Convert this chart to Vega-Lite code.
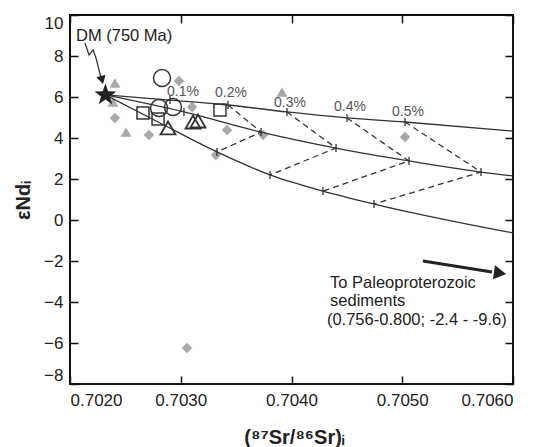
{
  "$schema": "https://vega.github.io/schema/vega-lite/v6.json",
  "width": 443,
  "height": 369,
  "autosize": "none",
  "padding": {"left": 70, "top": 15, "right": 31, "bottom": 63},
  "background": "white",
  "config": {
    "view": {"stroke": "#111", "strokeWidth": 2},
    "font": "Liberation Sans",
    "axis": {
      "grid": false,
      "domain": false,
      "ticks": true,
      "tickSize": 8,
      "tickColor": "#111",
      "tickWidth": 1.5,
      "labelFontSize": 17,
      "labelColor": "#222",
      "titleFontSize": 20,
      "titleFontWeight": "bold",
      "titleColor": "#222"
    }
  },
  "datasets": {
    "curves": [
      {"c": "top", "o": 0, "x": 0.70232, "y": 6.10},
      {"c": "top", "o": 1, "x": 0.702903, "y": 5.85},
      {"c": "top", "o": 2, "x": 0.703427, "y": 5.61},
      {"c": "top", "o": 3, "x": 0.703959, "y": 5.27},
      {"c": "top", "o": 4, "x": 0.704501, "y": 4.98},
      {"c": "top", "o": 5, "x": 0.705025, "y": 4.78},
      {"c": "top", "o": 6, "x": 0.706, "y": 4.34},
      {"c": "mid", "o": 0, "x": 0.70232, "y": 6.10},
      {"c": "mid", "o": 1, "x": 0.703029, "y": 5.27},
      {"c": "mid", "o": 2, "x": 0.703725, "y": 4.29},
      {"c": "mid", "o": 3, "x": 0.704402, "y": 3.51},
      {"c": "mid", "o": 4, "x": 0.705061, "y": 2.88},
      {"c": "mid", "o": 5, "x": 0.705711, "y": 2.34},
      {"c": "mid", "o": 6, "x": 0.706, "y": 2.15},
      {"c": "bot", "o": 0, "x": 0.70232, "y": 6.10},
      {"c": "bot", "o": 1, "x": 0.702813, "y": 4.73},
      {"c": "bot", "o": 2, "x": 0.703327, "y": 3.32},
      {"c": "bot", "o": 3, "x": 0.703806, "y": 2.20},
      {"c": "bot", "o": 4, "x": 0.704284, "y": 1.41},
      {"c": "bot", "o": 5, "x": 0.704745, "y": 0.78},
      {"c": "bot", "o": 6, "x": 0.706, "y": -0.63}
    ],
    "isopleths": [
      {"p": "0.2", "o": 0, "x": 0.703427, "y": 5.61},
      {"p": "0.2", "o": 1, "x": 0.703725, "y": 4.29},
      {"p": "0.2", "o": 2, "x": 0.703327, "y": 3.32},
      {"p": "0.3", "o": 0, "x": 0.703959, "y": 5.27},
      {"p": "0.3", "o": 1, "x": 0.704402, "y": 3.51},
      {"p": "0.3", "o": 2, "x": 0.703806, "y": 2.20},
      {"p": "0.4", "o": 0, "x": 0.704501, "y": 4.98},
      {"p": "0.4", "o": 1, "x": 0.705061, "y": 2.88},
      {"p": "0.4", "o": 2, "x": 0.704284, "y": 1.41},
      {"p": "0.5", "o": 0, "x": 0.705025, "y": 4.78},
      {"p": "0.5", "o": 1, "x": 0.705711, "y": 2.34},
      {"p": "0.5", "o": 2, "x": 0.704745, "y": 0.78}
    ],
    "ticks": [
      {"x": 0.702903, "y": 5.85},
      {"x": 0.703427, "y": 5.61},
      {"x": 0.703959, "y": 5.27},
      {"x": 0.704501, "y": 4.98},
      {"x": 0.705025, "y": 4.78},
      {"x": 0.703029, "y": 5.27},
      {"x": 0.703725, "y": 4.29},
      {"x": 0.704402, "y": 3.51},
      {"x": 0.705061, "y": 2.88},
      {"x": 0.705711, "y": 2.34},
      {"x": 0.703327, "y": 3.32},
      {"x": 0.703806, "y": 2.20},
      {"x": 0.704284, "y": 1.41},
      {"x": 0.704745, "y": 0.78}
    ],
    "points": [
      {"type": "gray diamond", "x": 0.702406, "y": 4.98},
      {"type": "gray diamond", "x": 0.702713, "y": 4.15},
      {"type": "gray diamond", "x": 0.702984, "y": 6.78},
      {"type": "gray diamond", "x": 0.703102, "y": 5.51},
      {"type": "gray diamond", "x": 0.703418, "y": 4.39},
      {"type": "gray diamond", "x": 0.703318, "y": 3.17},
      {"type": "gray diamond", "x": 0.703743, "y": 4.15},
      {"type": "gray diamond", "x": 0.705025, "y": 4.05},
      {"type": "gray diamond", "x": 0.703056, "y": -6.24},
      {"type": "gray triangle", "x": 0.702406, "y": 6.68},
      {"type": "gray triangle", "x": 0.702388, "y": 5.76},
      {"type": "gray triangle", "x": 0.702506, "y": 4.29},
      {"type": "gray triangle", "x": 0.703914, "y": 6.24},
      {"type": "open circle", "x": 0.702831, "y": 6.93},
      {"type": "open circle", "x": 0.702804, "y": 5.46},
      {"type": "open circle", "x": 0.70293, "y": 5.51},
      {"type": "open square", "x": 0.702659, "y": 5.22},
      {"type": "open square", "x": 0.702795, "y": 4.93},
      {"type": "open square", "x": 0.703354, "y": 5.37},
      {"type": "open triangle", "x": 0.702885, "y": 4.49},
      {"type": "open triangle", "x": 0.703111, "y": 4.78},
      {"type": "open triangle", "x": 0.703156, "y": 4.83},
      {"type": "DM", "x": 0.70232, "y": 6.10}
    ],
    "pct": [
      {"x": 0.70302, "y": 6.24, "t": "0.1%"},
      {"x": 0.703454, "y": 6.20, "t": "0.2%"},
      {"x": 0.703986, "y": 5.71, "t": "0.3%"},
      {"x": 0.704528, "y": 5.51, "t": "0.4%"},
      {"x": 0.705052, "y": 5.27, "t": "0.5%"}
    ],
    "notes": [
      {"x": 0.702054, "y": 8.98, "t": "DM (750 Ma)"},
      {"x": 0.704348, "y": -3.07, "t": "To Paleoproterozoic"},
      {"x": 0.704348, "y": -3.95, "t": "sediments"},
      {"x": 0.70432, "y": -4.88, "t": "(0.756-0.800; -2.4 - -9.6)"}
    ],
    "dmarrow": [
      {"o": 0, "x": 0.702135, "y": 8.63},
      {"o": 1, "x": 0.702172, "y": 8.05},
      {"o": 2, "x": 0.702208, "y": 8.29},
      {"o": 3, "x": 0.702235, "y": 7.90},
      {"o": 4, "x": 0.702253, "y": 7.51},
      {"o": 5, "x": 0.70228, "y": 6.93}
    ],
    "dmhead": [{"x": 0.702289, "y": 6.83}],
    "sedarrow": [
      {"o": 0, "x": 0.705187, "y": -2.00},
      {"o": 1, "x": 0.70581, "y": -2.54}
    ],
    "sedhead": [{"x": 0.705883, "y": -2.59}]
  },
  "layer": [
    {
      "encoding": {
        "x": {
          "field": "x", "type": "quantitative",
          "scale": {"domain": [0.702, 0.706], "zero": false, "nice": false},
          "axis": {
            "offset": -8,
            "values": [0.702, 0.703, 0.704, 0.705, 0.706],
            "format": ".4f",
            "labelPadding": 8,
            "title": "(⁸⁷Sr/⁸⁶Sr)ᵢ",
            "titleX": 224,
            "titleY": 61,
            "titleBaseline": "middle",
            "titleAlign": "center"
          }
        },
        "y": {
          "field": "y", "type": "quantitative",
          "scale": {"domain": [-8, 10], "zero": false, "nice": false},
          "axis": {
            "offset": -8,
            "values": [-8, -6, -4, -2, 0, 2, 4, 6, 8, 10],
            "labelFlush": true,
            "labelPadding": 7,
            "title": "εNdᵢ",
            "titleX": -55,
            "titleY": 185,
            "titleBaseline": "middle",
            "titleAlign": "center"
          }
        }
      },
      "layer": [
        {
          "data": {"name": "points"},
          "transform": [{"filter": "datum.type == 'gray diamond'"}],
          "mark": {"type": "point", "shape": "diamond", "filled": true, "color": "#a9a9a9", "opacity": 1, "size": 110}
        },
        {
          "data": {"name": "points"},
          "transform": [{"filter": "datum.type == 'gray triangle'"}],
          "mark": {"type": "point", "shape": "triangle-up", "filled": true, "color": "#a9a9a9", "opacity": 1, "size": 121}
        },
        {
          "data": {"name": "curves"},
          "mark": {"type": "line", "color": "#333", "strokeWidth": 1.3, "interpolate": "monotone"},
          "encoding": {"detail": {"field": "c"}, "order": {"field": "o"}}
        },
        {
          "data": {"name": "isopleths"},
          "mark": {"type": "line", "color": "#333", "strokeWidth": 1.3, "strokeDash": [6, 4]},
          "encoding": {"detail": {"field": "p"}, "order": {"field": "o"}}
        },
        {
          "data": {"name": "ticks"},
          "mark": {"type": "point", "shape": "M0,-1L0,1", "filled": false, "stroke": "#333", "strokeWidth": 1.3, "opacity": 1, "size": 64}
        },
        {
          "data": {"name": "points"},
          "transform": [{"filter": "datum.type == 'open circle'"}],
          "mark": {"type": "point", "shape": "circle", "filled": false, "stroke": "#333", "strokeWidth": 1.5, "opacity": 1, "size": 289}
        },
        {
          "data": {"name": "points"},
          "transform": [{"filter": "datum.type == 'open square'"}],
          "mark": {"type": "point", "shape": "square", "filled": false, "stroke": "#333", "strokeWidth": 1.5, "opacity": 1, "size": 144}
        },
        {
          "data": {"name": "points"},
          "transform": [{"filter": "datum.type == 'open triangle'"}],
          "mark": {"type": "point", "shape": "triangle-up", "filled": false, "stroke": "#333", "strokeWidth": 1.8, "opacity": 1, "size": 225}
        },
        {
          "data": {"name": "dmarrow"},
          "mark": {"type": "line", "color": "#333", "strokeWidth": 1.3},
          "encoding": {"order": {"field": "o"}}
        },
        {
          "data": {"name": "dmhead"},
          "mark": {"type": "point", "shape": "triangle-down", "filled": true, "color": "#222", "opacity": 1, "size": 90, "angle": -15}
        },
        {
          "data": {"name": "points"},
          "transform": [{"filter": "datum.type == 'DM'"}],
          "mark": {"type": "point", "shape": "M0,-1L0.235,-0.324L0.951,-0.309L0.38,0.124L0.588,0.809L0,0.4L-0.588,0.809L-0.38,0.124L-0.951,-0.309L-0.235,-0.324Z", "filled": true, "color": "#222", "opacity": 1, "size": 535}
        },
        {
          "data": {"name": "sedarrow"},
          "mark": {"type": "line", "color": "#222", "strokeWidth": 3},
          "encoding": {"order": {"field": "o"}}
        },
        {
          "data": {"name": "sedhead"},
          "mark": {"type": "point", "shape": "triangle-right", "filled": true, "color": "#222", "opacity": 1, "size": 200, "angle": 8}
        },
        {
          "data": {"name": "pct"},
          "mark": {"type": "text", "fontSize": 14, "color": "#555", "align": "center", "baseline": "middle"},
          "encoding": {"text": {"field": "t"}}
        },
        {
          "data": {"name": "notes"},
          "mark": {"type": "text", "fontSize": 16.5, "color": "#222", "align": "left", "baseline": "middle"},
          "encoding": {"text": {"field": "t"}}
        }
      ]
    },
    {
      "data": {"values": [{"x": 0.704, "y": 0}]},
      "mark": {"type": "point", "opacity": 0},
      "encoding": {
        "x": {"field": "x", "type": "quantitative", "axis": {"orient": "top", "offset": -8, "labels": false, "title": null, "values": [0.702, 0.703, 0.704, 0.705, 0.706]}},
        "y": {"field": "y", "type": "quantitative", "axis": {"orient": "right", "offset": -8, "labels": false, "title": null, "values": [-8, -6, -4, -2, 0, 2, 4, 6, 8, 10]}}
      }
    }
  ],
  "resolve": {"axis": {"x": "independent", "y": "independent"}}
}
